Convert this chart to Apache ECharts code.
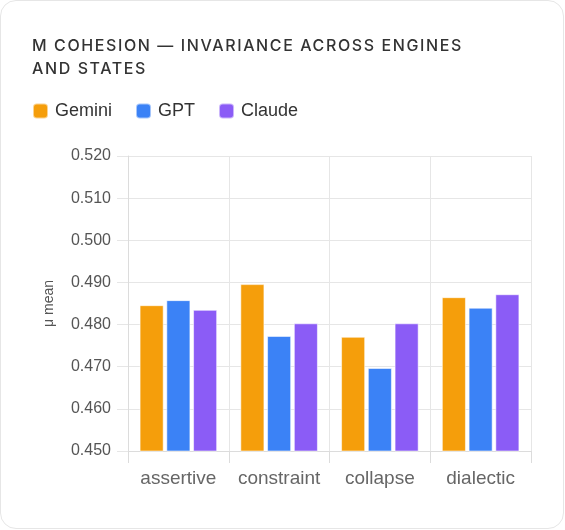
<!DOCTYPE html>
<html>
<head>
<meta charset="utf-8">
<script src="https://cdn.jsdelivr.net/npm/echarts@6/dist/echarts.min.js"></script>
<style>
  html, body { margin: 0; padding: 0; background: #fff; }
  .card {
    position: absolute; left: 0; top: 0;
    width: 564px; height: 529px; box-sizing: border-box;
    border: 1px solid #e6e6e6; border-radius: 16px; background: #fff;
  }
  .title {
    position: absolute; left: 32px; top: 34px; width: 460px;
    font-family: Inter, "Noto Sans", sans-serif; font-size: 16px; font-weight: 500;
    letter-spacing: 1.6px; line-height: 23px; color: #333;
  }
  #chart { position: absolute; left: 0; top: 0; width: 565px; height: 530px; }
</style>
</head>
<body>
<div class="card"></div>
<div id="chart"></div>
<div class="title">M COHESION — INVARIANCE ACROSS ENGINES AND STATES</div>
<script>
const states = ['assertive', 'constraint', 'collapse', 'dialectic'];
const gemini = [0.4846, 0.4896, 0.4771, 0.4865];
const gpt = [0.4858, 0.4773, 0.4697, 0.4840];
const claude = [0.4835, 0.4803, 0.4803, 0.4872];

const font = '"Liberation Sans", Arial, sans-serif';
const chart = echarts.init(document.getElementById('chart'));

function bar(name, data, color) {
    return {
        name: name,
        type: 'bar',
        data: data,
        barGap: '11%',
        barCategoryGap: '23%',
        itemStyle: { color: color, borderColor: 'rgba(255,255,255,0.55)', borderWidth: 1 }
    };
}

chart.setOption({
    animation: false,
    legend: {
        left: 32, top: 102, padding: 0,
        itemWidth: 15, itemHeight: 15, itemGap: 23,
        icon: 'roundRect',
        textStyle: { fontFamily: font, fontSize: 18, color: '#333', padding: [0, 0, 0, 2] },
        data: ['Gemini', 'GPT', 'Claude']
    },
    grid: { left: 128, right: 34, top: 156, bottom: 79 },
    xAxis: {
        type: 'category',
        data: states,
        axisLine: { lineStyle: { color: '#dcdcdc' } },
        axisTick: { show: true, length: 12, interval: 0, lineStyle: { color: '#dcdcdc' } },
        axisLabel: { fontFamily: font, fontSize: 19, color: '#666', margin: 18, interval: 0 },
        splitLine: { show: true, interval: 0, lineStyle: { color: '#e6e6e6' } }
    },
    yAxis: {
        type: 'value',
        min: 0.45, max: 0.52, interval: 0.01,
        name: 'μ mean',
        nameLocation: 'middle',
        nameGap: 72,
        nameTextStyle: { fontFamily: font, fontSize: 14, color: '#555' },
        axisLine: { show: true, lineStyle: { color: '#dcdcdc' } },
        axisTick: { show: true, length: 11, lineStyle: { color: '#e6e6e6' } },
        axisLabel: { fontFamily: font, fontSize: 16, color: '#555', margin: 17,
            formatter: v => v.toFixed(3) },
        splitLine: { show: true, lineStyle: { color: '#e6e6e6' } }
    },
    series: [
        bar('Gemini', gemini, '#f59e0b'),
        bar('GPT', gpt, '#3b82f6'),
        bar('Claude', claude, '#8b5cf6')
    ]
});
</script>
</body>
</html>
